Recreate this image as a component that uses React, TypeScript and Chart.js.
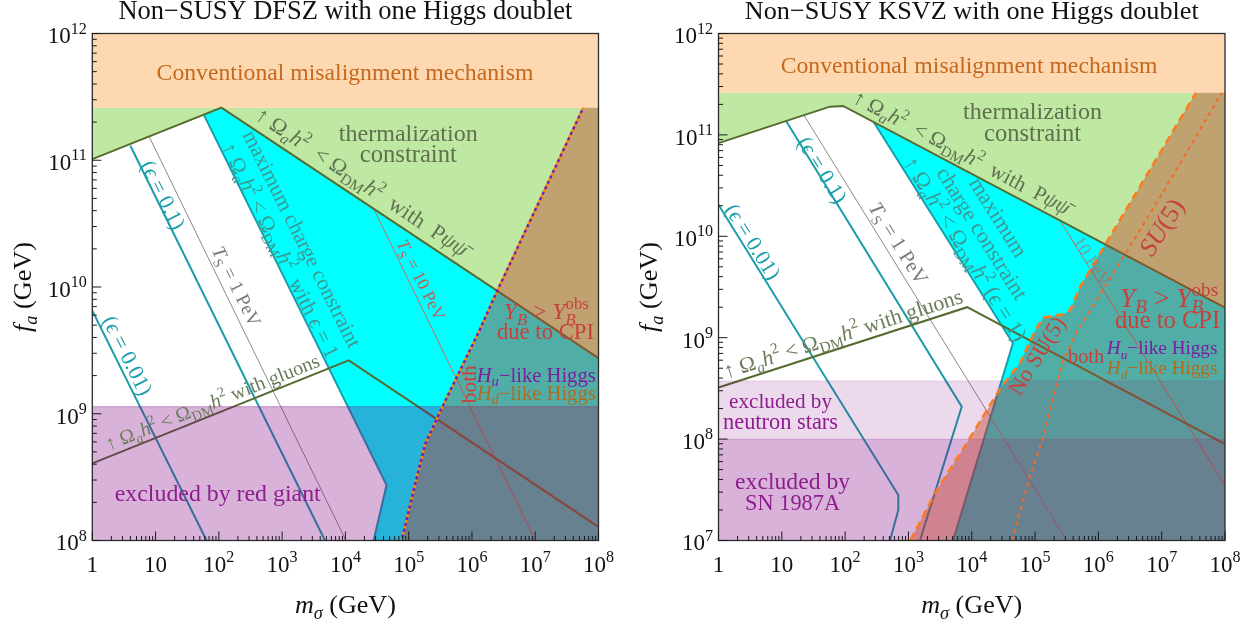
import React, { useEffect, useRef } from 'react';
import { Chart, registerables } from 'chart.js';
Chart.register(...registerables);

type Pt = [number, number];

// ---------------- data ----------------
const X_MIN = 1;
const X_MAX = 1e8;
const Y_MAX = 1e12;
const Y_MIN_DFSZ = 1e8;
const Y_MIN_KSVZ = 1e7;
const MISALIGN_FA = 2.6e11;

const xTickValues = [1, 10, 1e2, 1e3, 1e4, 1e5, 1e6, 1e7, 1e8];
const xTickLabels = ['1', '10', '10^{2}', '10^{3}', '10^{4}', '10^{5}', '10^{6}', '10^{7}', '10^{8}'];
const yTickValuesDFSZ = [1e8, 1e9, 1e10, 1e11, 1e12];
const yTickLabelsDFSZ = ['10^{8}', '10^{9}', '10^{10}', '10^{11}', '10^{12}'];
const yTickValuesKSVZ = [1e7, 1e8, 1e9, 1e10, 1e11, 1e12];
const yTickLabelsKSVZ = ['10^{7}', '10^{8}', '10^{9}', '10^{10}', '10^{11}', '10^{12}'];

// DFSZ panel curves (m_sigma [GeV], f_a [GeV])
const thermDFSZ: Pt[] = [[1, 1.02e11], [1.1e2, 2.6e11], [1e8, 2.75e9]];
const gluonDFSZ: Pt[] = [[1, 4.06e8], [1.13e4, 2.64e9], [1e8, 1.28e8]];
const eps001DFSZ: Pt[] = [[1, 6.5e9], [64, 1e8]];
const eps01DFSZ: Pt[] = [[4.0, 1.3e11], [4.76e3, 1e8]];
const eps1DFSZ: Pt[] = [[58, 2.28e11], [4.47e4, 2.74e8], [2.79e4, 1e8]];
const ts1DFSZ: Pt[] = [[7.9, 1.54e11], [1.02e4, 1e8]];
const ts10DFSZ: Pt[] = [[2.79e4, 4.16e10], [1e7, 1e8]];
const higgsDFSZ: Pt[] = [[7.76e4, 1e8], [1.2e5, 2.51e8], [1.82e5, 5.75e8], [3.16e5, 1.05e9], [1.32e6, 4.57e9], [2.4e6, 8.9e9], [5.75e7, 2.6e11]];
const redGiantFa = 1.14e9;

// KSVZ panel curves
const thermKSVZ: Pt[] = [[1, 8.3e10], [57.5, 1.9e11], [93, 1.93e11], [1e8, 1.98e9]];
const gluonKSVZ: Pt[] = [[1, 3.23e8], [8.47e3, 2.0e9], [1e8, 8.9e7]];
const eps001KSVZ: Pt[] = [[1, 2.05e10], [692, 2.81e7], [692, 2.0e7], [512, 1e7]];
const eps01KSVZ: Pt[] = [[11.7, 1.37e11], [6.95e3, 2.09e8], [1.52e3, 1e7]];
const eps1KSVZ: Pt[] = [[282, 1.34e11], [4.47e4, 8.8e8], [5.06e3, 1e7]];
const ts1KSVZ: Pt[] = [[22.4, 1.56e11], [3.16e5, 1e7]];
const ts10KSVZ: Pt[] = [[2.48e5, 1.43e10], [1e8, 3.5e7]];
const noSU5KSVZ: Pt[] = [[1.07e3, 1e7], [2.82e3, 3.16e7], [8.32e3, 9.12e7], [2.82e4, 3.16e8], [5.75e4, 5.62e8], [1e5, 1.17e9], [1.35e5, 1.58e9], [2.82e5, 1.7e9], [3.63e5, 1.9e9], [5.13e5, 3.16e9], [1.26e6, 8.13e9], [3.39e6, 2.29e10], [3.47e7, 2.6e11]];
const su5KSVZ: Pt[] = [[4.27e4, 1e7], [8.32e4, 4.27e7], [1.35e5, 1.05e8], [1.95e5, 2.63e8], [2.82e5, 6.03e8], [4.47e5, 1.12e9], [7.94e5, 2.0e9], [2.51e6, 6.31e9], [8.91e6, 2.29e10], [8.91e7, 2.6e11]];
const neutronStarFa = 3.75e8;
const sn1987aFa = 1e8;

// ---------------- style ----------------
const FONT = '"Liberation Serif","DejaVu Serif",serif';
const C_ORANGE = '#FDD8B0';
const C_GREEN = '#BFE9A2';
const C_CYAN = '#00FFFF';
const C_RED = 'rgba(194,61,42,0.42)';
const C_PURPLE = 'rgba(128,0,128,0.3)';
const C_PURPLE_LIGHT = 'rgba(128,0,128,0.15)';
const C_OLIVE = '#556B2F';
const C_TEAL = '#1A9DA8';
const C_TS1 = '#8a8a8a';
const C_TS10 = '#C0705E';
const C_HD = '#FF8C00';
const C_HU = '#7B1FA2';
const C_SU5 = '#FF7A1A';

const TXT_CONV = '#C4691F';
const TXT_THERM = '#5F6F50';
const TXT_MAX = '#3E9892';
const TXT_TEAL = '#1A9FAA';
const TXT_TS1 = '#7A7A7A';
const TXT_TS10 = '#B8604F';
const TXT_GLUON = '#6A7C5A';
const TXT_EXCL = '#8E1C8E';
const TXT_RED = '#C8403C';
const TXT_HU = '#7A1FA0';
const TXT_HD = '#B36B1F';

const ANN_PSI = '↑ Ω_{*a*}*h*^{2}  < Ω_{DM}*h*^{2}  with  P*ψψ̄*';
const ANN_MAX_DFSZ = '↑ Ω_{*a*}*h*^{2} < Ω_{DM}*h*^{2}  with *ϵ* = 1';
const ANN_MAX_KSVZ = '↑ Ω_{*a*}*h*^{2} < Ω_{DM}*h*^{2} (*ϵ* = 1)';
const ANN_GLUON = '↑ Ω_{*a*}*h*^{2} < Ω_{DM}*h*^{2} with gluons';
const EPS01 = '(*ϵ* = 0.1)';
const EPS001 = '(*ϵ* = 0.01)';
const TS1 = '*T*_{S} = 1 PeV';
const TS10 = '*T*_{S} = 10 PeV';
const YB = '*Y*_{*B*} > *Y*^{obs}_{*B*}';
const HU = '*H*_{*u*}−like Higgs';
const HD = '*H*_{*d*}−like Higgs';

interface Label {
  t: string; x: number; y: number; w?: number; size?: number; color: string;
  angle?: number; align?: 'left' | 'center' | 'right'; alpha?: number;
}

const labelsDFSZ: Label[] = [
  { t: 'Conventional misalignment mechanism', x: 9.84e3, y: 4.97e11, w: 377, color: TXT_CONV },
  { t: 'thermalization', x: 9.86e4, y: 1.63e11, w: 139, color: TXT_THERM },
  { t: 'constraint', x: 9.86e4, y: 1.12e11, w: 97, color: TXT_THERM },
  { t: ANN_PSI, x: 1.83e4, y: 6.73e10, w: 250, angle: 33.7, color: TXT_THERM },
  { t: 'maximum charge constraint', x: 2.06e3, y: 2.39e10, w: 240, angle: 63.5, color: TXT_MAX },
  { t: ANN_MAX_DFSZ, x: 935, y: 1.95e10, w: 238, angle: 63.5, color: TXT_MAX },
  { t: EPS01, x: 13.1, y: 5.32e10, w: 74, angle: 63.5, color: TXT_TEAL },
  { t: TS1, x: 190, y: 1.01e10, w: 87, angle: 63.5, color: TXT_TS1 },
  { t: TS10, x: 1.56e5, y: 1.135e10, w: 88, angle: 63.5, color: TXT_TS10 },
  { t: EPS001, x: 3.6, y: 2.88e9, w: 86, angle: 63.5, color: TXT_TEAL },
  { t: ANN_GLUON, x: 79.4, y: 1.23e9, w: 229, angle: -21.8, color: TXT_GLUON },
  { t: 'excluded by red giant', x: 96, y: 2.36e8, w: 206, color: TXT_EXCL },
  { t: YB, x: 1.49e7, y: 6.38e9, w: 85, color: TXT_RED },
  { t: 'due to CPI', x: 1.45e7, y: 4.44e9, w: 97, color: TXT_RED },
  { t: 'both', x: 8.97e5, y: 1.71e9, w: 38, angle: -90, color: TXT_RED },
  { t: HU, x: 1.19e6, y: 2.02e9, w: 119, align: 'left', color: TXT_HU },
  { t: HD, x: 1.19e6, y: 1.45e9, w: 119, align: 'left', color: TXT_HD },
];

const labelsKSVZ: Label[] = [
  { t: 'Conventional misalignment mechanism', x: 9.06e3, y: 4.89e11, w: 377, color: TXT_CONV },
  { t: 'thermalization', x: 9.12e4, y: 1.69e11, w: 139, color: TXT_THERM },
  { t: 'constraint', x: 9.12e4, y: 1.04e11, w: 97, color: TXT_THERM },
  { t: ANN_PSI, x: 6.95e3, y: 6.7e10, w: 242, angle: 27.9, color: TXT_THERM },
  { t: 'maximum', x: 2.63e4, y: 1.54e10, w: 90, angle: 58, color: TXT_MAX },
  { t: 'charge constraint', x: 1.45e4, y: 1.07e10, w: 152, angle: 58, color: TXT_MAX },
  { t: ANN_MAX_KSVZ, x: 7.85e3, y: 7.5e9, w: 213, angle: 58, color: TXT_MAX },
  { t: EPS01, x: 43.4, y: 4.51e10, w: 74, angle: 58, color: TXT_TEAL },
  { t: EPS001, x: 3.47, y: 8.85e9, w: 85, angle: 58, color: TXT_TEAL },
  { t: TS1, x: 692, y: 8.53e9, w: 93, angle: 58, color: TXT_TS1 },
  { t: '10 PeV', x: 7.94e5, y: 5.7e9, w: 55, angle: 58, color: TXT_TS10, alpha: 0.55 },
  { t: ANN_GLUON, x: 92.7, y: 1.09e9, w: 250, angle: -17.8, color: TXT_GLUON },
  { t: 'excluded by', x: 9.55, y: 2.34e8, w: 103, color: TXT_EXCL },
  { t: 'neutron stars', x: 9.55, y: 1.49e8, w: 115, color: TXT_EXCL },
  { t: 'excluded by', x: 14.8, y: 3.8e7, w: 115, color: TXT_EXCL },
  { t: 'SN 1987A', x: 14.8, y: 2.36e7, w: 95, color: TXT_EXCL },
  { t: 'No SU(5)', x: 1.07e5, y: 6.6e8, w: 88, angle: -58, color: TXT_RED },
  { t: '*SU*(5)', x: 1e7, y: 1.23e10, w: 62, angle: -58, color: TXT_RED },
  { t: YB, x: 1.31e7, y: 2.44e9, w: 98, color: TXT_RED },
  { t: 'due to CPI', x: 1.24e7, y: 1.5e9, w: 105, color: TXT_RED },
  { t: 'both', x: 1.23e6, y: 6.5e8, w: 36, align: 'right', color: TXT_RED },
  { t: HU, x: 1.36e6, y: 7.85e8, w: 110.6, align: 'left', color: TXT_HU },
  { t: HD, x: 1.36e6, y: 4.99e8, w: 110.6, align: 'left', color: TXT_HD },
];

// ---------------- rich text ----------------
type Seg = { t: string; it: boolean; m: number };
function parseRich(s: string): Seg[] {
  const out: Seg[] = [];
  let it = false;
  let m = 0;
  let buf = '';
  const flush = () => { if (buf) { out.push({ t: buf, it, m }); buf = ''; } };
  for (let i = 0; i < s.length; i++) {
    const c = s[i];
    if (c === '*') { flush(); it = !it; }
    else if ((c === '_' || c === '^') && s[i + 1] === '{') { flush(); m = c === '_' ? 1 : 2; i++; }
    else if (c === '}' && m) { flush(); m = 0; }
    else buf += c;
  }
  flush();
  return out;
}
interface Item { t: string; x: number; dy: number; font: string; m: number; w: number }
function layoutRich(ctx: CanvasRenderingContext2D, segs: Seg[], size: number) {
  const items: Item[] = [];
  let x = 0;
  let prev: Item | null = null;
  for (const s of segs) {
    const sz = s.m ? size * 0.7 : size;
    const font = `${s.it ? 'italic ' : ''}${sz.toFixed(2)}px ${FONT}`;
    ctx.font = font;
    const w = ctx.measureText(s.t).width;
    let sx = x;
    if (prev && prev.m && s.m && prev.m !== s.m) sx = prev.x;
    const dy = s.m === 1 ? size * 0.22 : s.m === 2 ? -size * 0.42 : 0;
    const item = { t: s.t, x: sx, dy, font, m: s.m, w };
    items.push(item);
    x = Math.max(x, sx + w);
    prev = item;
  }
  return { items, width: x };
}
interface DrawOpts { size?: number; w?: number; color: string; angle?: number; align?: 'left' | 'center' | 'right'; alpha?: number; baseline?: boolean }
function drawRichAt(ctx: CanvasRenderingContext2D, text: string, px: number, py: number, o: DrawOpts) {
  const segs = parseRich(text);
  let size = o.size ?? 18;
  let lay = layoutRich(ctx, segs, size);
  if (o.w) { size = size * o.w / lay.width; lay = layoutRich(ctx, segs, size); }
  ctx.save();
  ctx.translate(px, py);
  if (o.angle) ctx.rotate(o.angle * Math.PI / 180);
  ctx.fillStyle = o.color;
  ctx.globalAlpha = o.alpha ?? 1;
  ctx.textBaseline = 'alphabetic';
  ctx.textAlign = 'left';
  const x0 = o.align === 'left' ? 0 : o.align === 'right' ? -lay.width : -lay.width / 2;
  const yb = o.baseline ? 0 : size * 0.32;
  for (const it of lay.items) { ctx.font = it.font; ctx.fillText(it.t, x0 + it.x, yb + it.dy); }
  ctx.restore();
}

// ---------------- datasets ----------------
const toXY = (pts: Pt[]) => pts.map(([x, y]) => ({ x, y }));
const rect = (x0: number, x1: number, y0: number, y1: number): Pt[] => [[x0, y0], [x1, y0], [x1, y1], [x0, y1]];
function area(pts: Pt[], color: string, border?: string) {
  return { data: toXY(pts), fill: 'shape', backgroundColor: color, borderColor: border ?? 'rgba(0,0,0,0)', borderWidth: 1.2, pointRadius: 0 };
}
function line(pts: Pt[], color: string, width: number, dash?: number[], offset?: number) {
  return { data: toXY(pts), fill: false, borderColor: color, borderWidth: width, borderDash: dash ?? [], borderDashOffset: offset ?? 0, pointRadius: 0, borderCapStyle: 'butt' };
}

function datasetsDFSZ() {
  const green: Pt[] = [[X_MIN, MISALIGN_FA], [X_MAX, MISALIGN_FA], ...[...thermDFSZ].reverse()];
  const cyan: Pt[] = [eps1DFSZ[0], ...thermDFSZ.filter(p => p[0] > eps1DFSZ[0][0]), [X_MAX, Y_MIN_DFSZ], ...eps1DFSZ.slice(1).reverse()];
  const red: Pt[] = [...higgsDFSZ, [X_MAX, MISALIGN_FA], [X_MAX, Y_MIN_DFSZ]];
  return [
    area(green, C_GREEN),
    area(rect(X_MIN, X_MAX, MISALIGN_FA, Y_MAX), C_ORANGE),
    area(cyan, C_CYAN),
    line(ts1DFSZ, C_TS1, 1),
    line(ts10DFSZ, C_TS10, 1),
    line(eps001DFSZ, C_TEAL, 2),
    line(eps01DFSZ, C_TEAL, 2),
    line(eps1DFSZ, C_TEAL, 2),
    line(gluonDFSZ, C_OLIVE, 2),
    line(thermDFSZ, C_OLIVE, 2),
    area(rect(X_MIN, X_MAX, Y_MIN_DFSZ, redGiantFa), C_PURPLE, 'rgba(128,0,128,0.25)'),
    area(red, C_RED),
    line(higgsDFSZ, C_HD, 2.5, [3, 3]),
    line(higgsDFSZ, C_HU, 2.5, [3, 3], 3),
  ];
}
function datasetsKSVZ() {
  const green: Pt[] = [[X_MIN, MISALIGN_FA], [X_MAX, MISALIGN_FA], ...[...thermKSVZ].reverse()];
  const cyan: Pt[] = [eps1KSVZ[0], ...thermKSVZ.filter(p => p[0] > eps1KSVZ[0][0]), [X_MAX, Y_MIN_KSVZ], ...eps1KSVZ.slice(1).reverse()];
  const red: Pt[] = [...noSU5KSVZ, [X_MAX, MISALIGN_FA], [X_MAX, Y_MIN_KSVZ]];
  return [
    area(green, C_GREEN),
    area(rect(X_MIN, X_MAX, MISALIGN_FA, Y_MAX), C_ORANGE),
    area(cyan, C_CYAN),
    line(ts1KSVZ, C_TS1, 1),
    line(ts10KSVZ, C_TS10, 1),
    line(eps001KSVZ, C_TEAL, 2),
    line(eps01KSVZ, C_TEAL, 2),
    line(eps1KSVZ, C_TEAL, 2),
    line(gluonKSVZ, C_OLIVE, 2),
    line(thermKSVZ, C_OLIVE, 2),
    area(rect(X_MIN, X_MAX, Y_MIN_KSVZ, sn1987aFa), C_PURPLE),
    area(rect(X_MIN, X_MAX, sn1987aFa, neutronStarFa), C_PURPLE_LIGHT, 'rgba(128,0,128,0.12)'),
    area(red, C_RED),
    line(noSU5KSVZ, C_SU5, 2.5, [8, 5]),
    line(su5KSVZ, '#F26A28', 2, [4, 4]),
  ];
}

// ---------------- panel ----------------
interface PanelSpec {
  title: string; yMin: number; yTicks: number[]; yTickLabels: string[];
  yAxisWidth: number; padRight: number; yTitleX: number; datasets: any[]; labels: Label[];
}

function drawPanel(chart: any, spec: PanelSpec) {
  const ctx: CanvasRenderingContext2D = chart.ctx;
  const xs = chart.scales.x;
  const ys = chart.scales.y;
  const a = chart.chartArea;
  for (const L of spec.labels) drawRichAt(ctx, L.t, xs.getPixelForValue(L.x), ys.getPixelForValue(L.y), L);
  ctx.save();
  ctx.strokeStyle = '#2b2b2b';
  ctx.lineWidth = 1.3;
  ctx.strokeRect(a.left, a.top, a.right - a.left, a.bottom - a.top);
  ctx.lineWidth = 1;
  ctx.strokeStyle = '#1a1a1a';
  ctx.beginPath();
  const e0 = Math.round(Math.log10(spec.yMin));
  for (let e = e0; e <= 12; e++) {
    for (let m = 1; m <= 9; m++) {
      const v = m * Math.pow(10, e);
      if (v > Y_MAX * 1.0001) break;
      const p = ys.getPixelForValue(v);
      const len = m === 1 ? 9 : 4.5;
      ctx.moveTo(a.left, p); ctx.lineTo(a.left + len, p);
    }
  }
  for (let e = 0; e <= 8; e++) {
    for (let m = 1; m <= 9; m++) {
      const v = m * Math.pow(10, e);
      if (v > X_MAX * 1.0001) break;
      const p = xs.getPixelForValue(v);
      const len = m === 1 ? 9 : 4.5;
      ctx.moveTo(p, a.bottom); ctx.lineTo(p, a.bottom - len);
    }
  }
  ctx.stroke();
  ctx.restore();
  xTickValues.forEach((v, i) => drawRichAt(ctx, xTickLabels[i], xs.getPixelForValue(v), a.bottom + 31, { size: 23, color: '#111', baseline: true }));
  spec.yTicks.forEach((v, i) => drawRichAt(ctx, spec.yTickLabels[i], a.left - 5.5, ys.getPixelForValue(v) + 9.8, { size: 23, color: '#111', align: 'right', baseline: true }));
  const cx = (a.left + a.right) / 2;
  const cy = (a.top + a.bottom) / 2;
  drawRichAt(ctx, '*m*_{*σ*} (GeV)', cx, 613, { w: 101, size: 22, color: '#111', baseline: true });
  drawRichAt(ctx, '*f*_{*a*} (GeV)', spec.yTitleX, cy, { w: 90, size: 22, color: '#111', angle: -90 });
  drawRichAt(ctx, spec.title, cx, 18.5, { w: 454, size: 24, color: '#111', baseline: true });
}

function buildConfig(spec: PanelSpec): any {
  const ds = [...spec.datasets].reverse();
  return {
    type: 'line',
    data: { datasets: ds },
    options: {
      animation: false,
      responsive: false,
      maintainAspectRatio: false,
      events: [],
      layout: { padding: { left: 0, right: spec.padRight, top: 33.5, bottom: 0 } },
      plugins: { legend: { display: false }, tooltip: { enabled: false }, title: { display: false } },
      elements: { point: { radius: 0 }, line: { tension: 0 } },
      scales: {
        x: {
          type: 'logarithmic', min: X_MIN, max: X_MAX,
          ticks: { display: false }, grid: { display: false }, border: { display: false },
          afterFit: (s: any) => { s.height = 87.5; },
        },
        y: {
          type: 'logarithmic', min: spec.yMin, max: Y_MAX,
          ticks: { display: false }, grid: { display: false }, border: { display: false },
          afterFit: (s: any) => { s.width = spec.yAxisWidth; },
        },
      },
    },
    plugins: [{ id: 'panelDraw', afterDraw: (chart: any) => drawPanel(chart, spec) }],
  };
}

function Panel({ spec, left, width }: { spec: PanelSpec; left: number; width: number }) {
  const ref = useRef<HTMLCanvasElement>(null);
  useEffect(() => {
    const chart = new Chart(ref.current as HTMLCanvasElement, buildConfig(spec));
    return () => chart.destroy();
  }, []);
  return <canvas ref={ref} width={width} height={628} style={{ position: 'absolute', left, top: 0, width, height: 628 }} />;
}

export default function App() {
  const specL: PanelSpec = {
    title: 'Non−SUSY DFSZ with one Higgs doublet', yMin: Y_MIN_DFSZ, yTicks: yTickValuesDFSZ, yTickLabels: yTickLabelsDFSZ,
    yAxisWidth: 92.3, padRight: 29.5, yTitleX: 23, datasets: datasetsDFSZ(), labels: labelsDFSZ,
  };
  const specR: PanelSpec = {
    title: 'Non−SUSY KSVZ with one Higgs doublet', yMin: Y_MIN_KSVZ, yTicks: yTickValuesKSVZ, yTickLabels: yTickLabelsKSVZ,
    yAxisWidth: 90.5, padRight: 30, yTitleX: 21, datasets: datasetsKSVZ(), labels: labelsKSVZ,
  };
  return (
    <div style={{ position: 'fixed', left: 0, top: 0, width: 1255, height: 628, background: '#fff', overflow: 'hidden' }}>
      <Panel spec={specL} left={0} width={628} />
      <Panel spec={specR} left={628} width={627} />
    </div>
  );
}
